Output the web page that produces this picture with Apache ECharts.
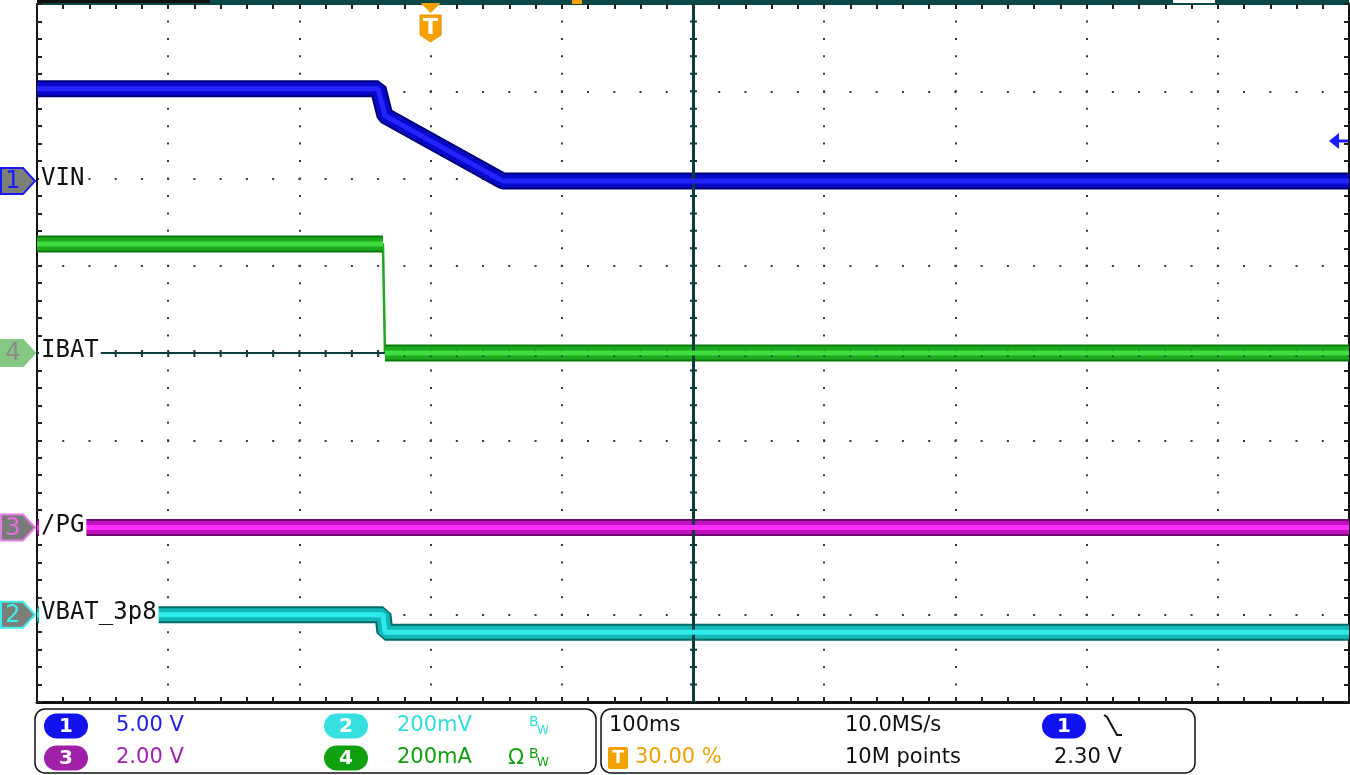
<!DOCTYPE html>
<html>
<head>
<meta charset="utf-8">
<script src="https://cdn.jsdelivr.net/npm/echarts@6/dist/echarts.min.js"></script>
<style>
  html, body { margin: 0; padding: 0; background: #fff; }
  #chart { width: 1350px; height: 775px; }
</style>
</head>
<body>
<div id="chart"></div>
<script>
// time base: 100 ms/div, trigger at 30 % of record -> t = 0
const timeMin = -300;
const timeMax = 700;
const timeDiv = 100;

// ch1 VIN (V)
const vinT = [-300, -40, -34.8, 55.2, 700];
const vinV = [5.3, 5.3, 3.75, 0, 0];
// ch4 IBAT (mA)
const ibatT = [-300, -36.3, -34.8, 700];
const ibatV = [250, 250, 0, 0];
// ch3 /PG (V)
const pgT = [-300, 700];
const pgV = [0, 0];
// ch2 VBAT_3p8 (V, around offset)
const vbatT = [-300, -36.3, -34.8, 700];
const vbatV = [0, 0, -0.04, -0.04];

const triggerLevel = 2.3; // V on ch1

// scale = units/div, pos = ground marker in divisions from centre
const channels = [
  { label: 'VIN', num: '1', t: vinT, v: vinV, scale: 5, pos: 1.97,
    edge: '#00007a', body: '#0808c8', core: '#2424ff',
    mFill: '#7c8078', mStroke: '#1a1aff', mText: '#1a1aff' },
  { label: 'IBAT', num: '4', t: ibatT, v: ibatV, scale: 200, pos: 0,
    edge: '#0a7a0a', body: '#1ea81e', core: '#40dc40',
    mFill: '#84c884', mStroke: '#84c884', mText: '#8a8a8a' },
  { label: '/PG', num: '3', t: pgT, v: pgV, scale: 2, pos: -2,
    edge: '#6e0a6e', body: '#c010c0', core: '#ff30ff',
    mFill: '#7a7a7a', mStroke: '#e080e0', mText: '#e070e0' },
  { label: 'VBAT_3p8', num: '2', t: vbatT, v: vbatV, scale: 0.2, pos: -3,
    edge: '#036a6a', body: '#12b8b8', core: '#30eaea',
    mFill: '#7a7f7a', mStroke: '#40f0f0', mText: '#40f0f0' },
];

const toDiv = (ch, v) => ch.pos + v / ch.scale;

function fullData(ch) {
  return ch.t.map((t, i) => [t, toDiv(ch, ch.v[i])]);
}

// thick band, broken at fast vertical edges (those are drawn thin)
function bandData(ch) {
  const pts = fullData(ch);
  const out = [pts[0]];
  for (let i = 1; i < pts.length; i++) {
    const dt = pts[i][0] - pts[i - 1][0];
    const dy = Math.abs(pts[i][1] - pts[i - 1][1]);
    if (dt < 2.5 && dy > 0.5) out.push([(pts[i][0] + pts[i - 1][0]) / 2, '-']);
    out.push(pts[i]);
  }
  return out;
}

const chart = echarts.init(document.getElementById('chart'));

function axisCommon(extra) {
  return Object.assign({
    type: 'value',
    axisLabel: { show: false },
    axisTick: { show: true, inside: true, length: 5, lineStyle: { color: '#222', width: 2 } },
    minorTick: { show: true, splitNumber: 5, length: 5, lineStyle: { color: '#222', width: 2 } },
    splitLine: { show: false },
  }, extra);
}

const xAxes = [
  axisCommon({
    min: timeMin, max: timeMax, interval: timeDiv, position: 'bottom',
    axisLine: { onZero: false, lineStyle: { color: '#111', width: 3 } },
    splitLine: { show: true, lineStyle: { color: '#333c48', width: 2, type: [2, 15.45], dashOffset: 1 } },
  }),
  axisCommon({
    min: timeMin, max: timeMax, interval: timeDiv, position: 'top',
    axisLine: { onZero: false, lineStyle: { color: '#0d4848', width: 2 } },
  }),
];
const yAxes = [
  axisCommon({
    min: -4, max: 4, interval: 1, position: 'left',
    axisLine: { onZero: false, lineStyle: { color: '#111', width: 2 } },
    splitLine: { show: true, lineStyle: { color: '#333c48', width: 2, type: [2, 24.24], dashOffset: 1 } },
  }),
  axisCommon({
    min: -4, max: 4, interval: 1, position: 'right',
    axisLine: { onZero: false, lineStyle: { color: '#111', width: 3 } },
  }),
];

const series = [{
  type: 'line', data: [], z: 2, silent: true,
  markLine: {
    symbol: 'none', silent: true, animation: false, label: { show: false },
    emphasis: { disabled: true },
    data: [
      { xAxis: timeMin + 5 * timeDiv, lineStyle: { color: '#0d3c3c', width: 7, type: [2, 15.45], dashOffset: 1 } },
      { xAxis: timeMin + 5 * timeDiv, lineStyle: { color: '#0d3c3c', width: 3, type: 'solid' } },
      { yAxis: 0, lineStyle: { color: '#0d3c3c', width: 7, type: [2, 24.24], dashOffset: 1 } },
      { yAxis: 0, lineStyle: { color: '#0d3c3c', width: 2, type: 'solid' } },
    ],
  },
}];

channels.forEach((ch) => {
  const base = { type: 'line', showSymbol: false, silent: true, animation: false, emphasis: { disabled: true } };
  series.push({ ...base, name: ch.label, data: fullData(ch), z: 3,
    lineStyle: { color: ch.body, width: 2.5 } });
  series.push({ ...base, data: bandData(ch), z: 3,
    lineStyle: { color: ch.edge, width: 17, join: 'bevel' } });
  series.push({ ...base, data: bandData(ch), z: 4,
    lineStyle: { color: ch.body, width: 13, join: 'bevel' } });
  series.push({ ...base, data: bandData(ch), z: 5,
    lineStyle: { color: ch.core, width: 5, join: 'bevel' } });
});

chart.setOption({
  animation: false,
  backgroundColor: '#ffffff',
  grid: { left: 37, top: 4, width: 1312, height: 698 },
  xAxis: xAxes,
  yAxis: yAxes,
  series: series,
});

// overlay: ground markers, labels, trigger marks, info panel
const px = (t, d) => chart.convertToPixel({ xAxisIndex: 0, yAxisIndex: 0 }, [t, d]);
const g = [];
const txt = (x, y, text, font, fill, align, extra) => ({
  type: 'text', z: 100, silent: true,
  style: Object.assign({
    x: x, y: y, text: text, font: font, fill: fill,
    align: align || 'left', textAlign: align || 'left',
    verticalAlign: 'middle', textVerticalAlign: 'middle',
  }, extra || {}),
});

channels.forEach((ch) => {
  const y = px(timeMin, ch.pos)[1];
  g.push({
    type: 'polygon', z: 100, silent: true,
    shape: { points: [[1, y - 13], [23, y - 13], [35, y], [23, y + 13], [1, y + 13]] },
    style: { fill: ch.mFill, stroke: ch.mStroke, lineWidth: 2 },
  });
  g.push(txt(13, y + 1, ch.num, '24px "DejaVu Sans"', ch.mText, 'center'));
  g.push(txt(39, y - 2, ch.label, '24px "DejaVu Sans Mono"', '#111', 'left',
    { backgroundColor: '#ffffff', padding: [2, 2, 2, 2] }));
});

// top border (record bar) and trigger position marker
g.push({ type: 'rect', z: 90, silent: true, shape: { x: 37, y: 0, width: 1312, height: 3 }, style: { fill: '#0d4848' } });
g.push({ type: 'rect', z: 91, silent: true, shape: { x: 37, y: 0, width: 173, height: 3 }, style: { fill: '#111' } });
g.push({ type: 'rect', z: 91, silent: true, shape: { x: 1173, y: 0, width: 42, height: 3 }, style: { fill: '#fff' } });
g.push({ type: 'rect', z: 91, silent: true, shape: { x: 572, y: 0, width: 10, height: 4 }, style: { fill: '#f5a100' } });
const tx = px(0, 0)[0];
g.push({ type: 'polygon', z: 100, silent: true,
  shape: { points: [[tx - 10, 3], [tx + 10, 3], [tx, 13]] }, style: { fill: '#f5a100' } });
g.push({ type: 'polygon', z: 100, silent: true,
  shape: { points: [[tx - 10.5, 15], [tx + 10.5, 15], [tx + 10.5, 35], [tx, 42], [tx - 10.5, 35]] },
  style: { fill: '#f5a100', stroke: '#e39400', lineWidth: 1 } });
g.push(txt(tx, 28, 'T', 'bold 22px "DejaVu Sans"', '#ffffff', 'center'));

// trigger level arrow (ch1)
const ty = px(0, toDiv(channels[0], triggerLevel))[1];
g.push({ type: 'polygon', z: 100, silent: true,
  shape: { points: [[1329, ty], [1339, ty - 8], [1339, ty + 8]] }, style: { fill: '#1a1aff' } });
g.push({ type: 'rect', z: 100, silent: true,
  shape: { x: 1337, y: ty - 1.5, width: 11, height: 3 }, style: { fill: '#1a1aff' } });

// info panel
const panelFont = '21px "DejaVu Sans"';
const pill = (x, y, num, fill) => {
  g.push({ type: 'rect', z: 100, silent: true, shape: { x: x, y: y - 12.5, width: 44, height: 25, r: 12.5 }, style: { fill: fill } });
  g.push(txt(x + 22, y + 1, num, 'bold 20px "DejaVu Sans"', '#ffffff', 'center'));
};
const bw = (x, y, color) => {
  g.push(txt(x, y - 4, 'B', '14px "DejaVu Sans"', color, 'left'));
  g.push(txt(x + 8, y + 5, 'W', '12px "DejaVu Sans"', color, 'left'));
};
g.push({ type: 'rect', z: 100, silent: true, shape: { x: 35, y: 709, width: 561, height: 64, r: 10 },
  style: { fill: 'none', stroke: '#111', lineWidth: 1.5 } });
g.push({ type: 'rect', z: 100, silent: true, shape: { x: 601, y: 709, width: 594, height: 64, r: 10 },
  style: { fill: 'none', stroke: '#111', lineWidth: 1.5 } });

const row1 = 726, row2 = 758;
pill(44, row1, '1', '#1212ee');
g.push(txt(116, row1, '5.00 V', panelFont, '#2020e8'));
pill(44, row2, '3', '#a020a8');
g.push(txt(116, row2, '2.00 V', panelFont, '#a020b0'));
pill(324, row1, '2', '#36e0e0');
g.push(txt(397, row1, '200mV', panelFont, '#30dede'));
bw(529, row1, '#30dede');
pill(324, row2, '4', '#10a010');
g.push(txt(397, row2, '200mA', panelFont, '#10a010'));
g.push(txt(508, row2 + 1, 'Ω', '21px "DejaVu Sans"', '#10a010'));
bw(529, row2, '#10a010');

g.push(txt(609, row1, '100ms', panelFont, '#111'));
g.push({ type: 'rect', z: 100, silent: true, shape: { x: 608, y: row2 - 11, width: 20, height: 22, r: 2 }, style: { fill: '#f5a100' } });
g.push(txt(618, row2 + 1, 'T', 'bold 17px "DejaVu Sans"', '#ffffff', 'center'));
g.push(txt(635, row2, '30.00 %', panelFont, '#f0a000'));
g.push(txt(845, row1, '10.0MS/s', panelFont, '#111'));
g.push(txt(845, row2, '10M points', panelFont, '#111'));
pill(1042, row1, '1', '#1212ee');
g.push({ type: 'polyline', z: 100, silent: true,
  shape: { points: [[1104, 715], [1107, 717], [1117, 735], [1122, 735]] },
  style: { stroke: '#111', lineWidth: 2, fill: 'none' } });
g.push(txt(1054, row2, '2.30 V', panelFont, '#111'));

chart.setOption({ graphic: g });
</script>
</body>
</html>
